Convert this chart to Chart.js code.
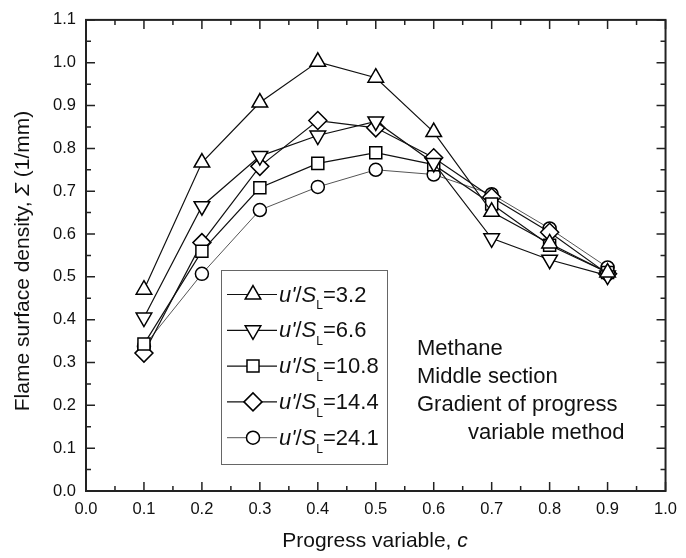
<!DOCTYPE html>
<html lang="en">
<head>
<meta charset="UTF-8">
<title>Flame surface density vs progress variable</title>
<script src="https://cdnjs.cloudflare.com/ajax/libs/Chart.js/4.4.0/chart.umd.min.js"></script>
<style>
  * { margin:0; padding:0; box-sizing:border-box; }
  body { background:#fff; }
  .wrap { position:relative; width:686px; height:558px; }
</style>
</head>
<body>
<div class="wrap"><canvas id="chartSigma"></canvas></div>

<script>
// progress variable c
const cVals = [0.1, 0.2, 0.3, 0.4, 0.5, 0.6, 0.7, 0.8, 0.9];
// u'/SL values used in the legend
const ratioLabels = ['3.2', '6.6', '10.8', '14.4', '24.1'];
// flame surface density (1/mm), one array per u'/SL
const sigmaR32  = [0.470, 0.767, 0.907, 1.002, 0.965, 0.838, 0.652, 0.578, 0.510];
const sigmaR66  = [0.405, 0.665, 0.782, 0.830, 0.863, 0.766, 0.590, 0.540, 0.503];
const sigmaR108 = [0.343, 0.560, 0.708, 0.765, 0.790, 0.762, 0.670, 0.574, 0.510];
const sigmaR144 = [0.322, 0.580, 0.758, 0.865, 0.848, 0.778, 0.686, 0.604, 0.507];
const sigmaR241 = [0.338, 0.507, 0.656, 0.710, 0.750, 0.739, 0.693, 0.613, 0.522];
// annotation lines
const noteLines = ['Methane', 'Middle section', 'Gradient of progress', 'variable method'];

const FONT = '"Liberation Sans", Arial, sans-serif';
const pts = arr => cVals.map((c, i) => ({ x: c, y: arr[i] }));

const series = [
  { vals: sigmaR32,  style: 'triangle', rot: 0,   r: 9,   line: '#111' },
  { vals: sigmaR66,  style: 'triangle', rot: 180, r: 9,   line: '#111' },
  { vals: sigmaR108, style: 'rect',     rot: 0,   r: 8.5, line: '#111' },
  { vals: sigmaR144, style: 'rectRot',  rot: 0,   r: 9,   line: '#111' },
  { vals: sigmaR241, style: 'circle',   rot: 0,   r: 6.5, line: '#555' }
];

// draws a run of text pieces (normal / italic / subscript)
function richText(ctx, parts, x, y, size, align) {
  const fontOf = p => (p.it ? 'italic ' : '') + (p.sub ? size * 0.55 : size) + 'px ' + FONT;
  let w = 0;
  parts.forEach(p => { ctx.font = fontOf(p); w += ctx.measureText(p.t).width; });
  let cx = align === 'center' ? x - w / 2 : x;
  ctx.textAlign = 'left';
  ctx.textBaseline = 'alphabetic';
  parts.forEach(p => {
    ctx.font = fontOf(p);
    ctx.fillText(p.t, cx, y + (p.sub ? size * 0.36 : 0));
    cx += ctx.measureText(p.t).width;
  });
}

const framePlugin = {
  id: 'frame',
  afterDatasetsDraw(chart) {
    const { ctx, chartArea: a, scales: { x, y } } = chart;
    ctx.save();
    ctx.strokeStyle = '#222';
    ctx.lineWidth = 1.5;
    ctx.beginPath();
    for (let i = 0; i <= 20; i++) {
      const px = x.getPixelForValue(i * 0.05);
      const len = i % 2 === 0 ? 9 : 5;
      ctx.moveTo(px, a.bottom); ctx.lineTo(px, a.bottom - len);
      ctx.moveTo(px, a.top); ctx.lineTo(px, a.top + len);
    }
    for (let i = 0; i <= 22; i++) {
      const py = y.getPixelForValue(i * 0.05);
      const len = i % 2 === 0 ? 9 : 5;
      ctx.moveTo(a.left, py); ctx.lineTo(a.left + len, py);
      ctx.moveTo(a.right, py); ctx.lineTo(a.right - len, py);
    }
    ctx.stroke();
    ctx.lineWidth = 2;
    ctx.strokeRect(a.left, a.top, a.right - a.left, a.bottom - a.top);
    ctx.restore();
  },
  afterDraw(chart) {
    const { ctx } = chart;
    ctx.save();
    ctx.fillStyle = '#111';

    // axis titles
    richText(ctx, [{ t: 'Progress variable, ' }, { t: 'c', it: true }], 375, 547, 21, 'center');
    ctx.save();
    ctx.translate(29, 261);
    ctx.rotate(-Math.PI / 2);
    richText(ctx, [{ t: 'Flame surface density, ' }, { t: 'Σ', it: true }, { t: ' (1/mm)' }], 0, 0, 21, 'center');
    ctx.restore();

    // legend box
    ctx.strokeStyle = '#666';
    ctx.lineWidth = 1;
    ctx.strokeRect(221.5, 270.5, 166, 194);
    chart.data.datasets.forEach((ds, i) => {
      const base = 301.5 + i * 35.8;
      const my = base - 7;
      ctx.strokeStyle = ds.borderColor;
      ctx.lineWidth = ds.borderWidth;
      ctx.beginPath();
      ctx.moveTo(227, my); ctx.lineTo(277, my);
      ctx.stroke();
      ctx.strokeStyle = '#000';
      ctx.fillStyle = '#fff';
      ctx.lineWidth = 1.5;
      Chart.helpers.drawPoint(ctx, { pointStyle: ds.pointStyle, rotation: ds.pointRotation, radius: ds.pointRadius, borderWidth: 1.5 }, 253, my);
      ctx.fillStyle = '#111';
      richText(ctx, [{ t: "u'", it: true }, { t: '/' }, { t: 'S', it: true }, { t: 'L', sub: true }, { t: '=' + ratioLabels[i] }],
        279, base, 22, 'left');
    });

    // annotation
    ctx.font = '22px ' + FONT;
    ctx.textAlign = 'left';
    ctx.textBaseline = 'alphabetic';
    const noteX = [417, 417, 417, 468];
    noteLines.forEach((t, i) => ctx.fillText(t, noteX[i], 355 + i * 28));
    ctx.restore();
  }
};

new Chart(document.getElementById('chartSigma').getContext('2d'), {
  type: 'line',
  data: {
    datasets: series.map((s, i) => ({
      label: "u'/SL=" + ratioLabels[i],
      data: pts(s.vals),
      borderColor: s.line,
      borderWidth: i === 4 ? 1 : 1.2,
      pointStyle: s.style,
      pointRotation: s.rot,
      pointRadius: s.r,
      pointBorderWidth: 1.5,
      pointBorderColor: '#000',
      pointBackgroundColor: '#fff',
      tension: 0
    }))
  },
  options: {
    responsive: true,
    maintainAspectRatio: false,
    animation: false,
    layout: { padding: { top: 16, right: 15, left: 0, bottom: 0 } },
    plugins: { legend: { display: false }, tooltip: { enabled: false } },
    scales: {
      x: {
        type: 'linear', min: 0, max: 1,
        grid: { display: false, drawTicks: false }, border: { display: false },
        ticks: { stepSize: 0.1, padding: 9, color: '#111', font: { family: FONT, size: 16.5 }, callback: v => v.toFixed(1) },
        afterFit: s => { s.height = 67; }
      },
      y: {
        min: 0, max: 1.1,
        grid: { display: false, drawTicks: false }, border: { display: false },
        ticks: { stepSize: 0.1, padding: 10, color: '#111', font: { family: FONT, size: 16.5 }, callback: v => v.toFixed(1) },
        afterFit: s => { s.width = 86; }
      }
    }
  },
  plugins: [framePlugin]
});
</script>
</body>
</html>
